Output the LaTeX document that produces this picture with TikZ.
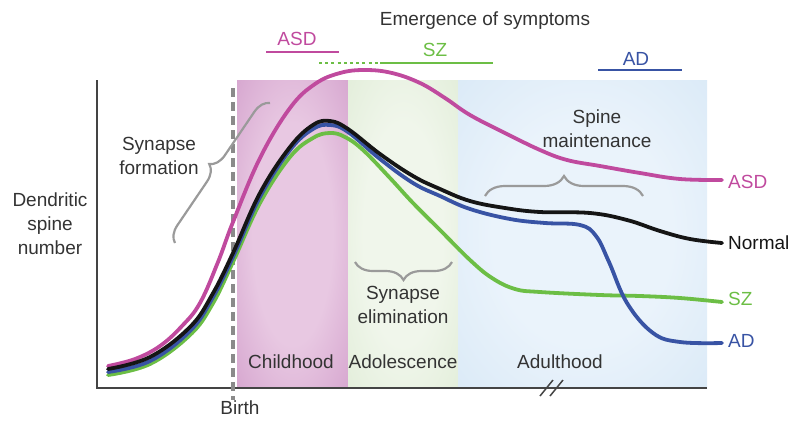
\documentclass[tikz,border=0pt]{standalone}
\usepackage{fontspec}
\setmainfont{Liberation Sans}
\usetikzlibrary{decorations.pathreplacing}
\definecolor{cASD}{HTML}{C04A9E}
\definecolor{cSZ}{HTML}{6CBE45}
\definecolor{cAD}{HTML}{3853A4}
\definecolor{cN}{HTML}{151515}
\definecolor{txt}{HTML}{333333}
\definecolor{brc}{HTML}{9A9A9A}
\definecolor{dsh}{HTML}{8A8A8A}
\definecolor{axc}{HTML}{444444}
\definecolor{chIn}{HTML}{E8C8E2}
\definecolor{chOut}{HTML}{C98DC1}
\definecolor{adIn}{HTML}{F0F6EB}
\definecolor{adOut}{HTML}{D9E8CE}
\definecolor{auIn}{HTML}{EAF3FB}
\definecolor{auOut}{HTML}{CFE3F4}
\pgfdeclareradialshading{childsh}{\pgfpoint{0bp}{0bp}}{color(0bp)=(chIn); color(18bp)=(chIn); color(50bp)=(chOut); color(72bp)=(chOut)}
\pgfdeclareradialshading{adolsh}{\pgfpoint{0bp}{0bp}}{color(0bp)=(adIn); color(18bp)=(adIn); color(50bp)=(adOut); color(72bp)=(adOut)}
\pgfdeclareradialshading{adultsh}{\pgfpoint{0bp}{0bp}}{color(0bp)=(auIn); color(18bp)=(auIn); color(50bp)=(auOut); color(72bp)=(auOut)}
\begin{document}
\begin{tikzpicture}[x=1pt,y=-1pt,
  lbl/.style={text=txt,font=\fontsize{19}{24}\selectfont,inner sep=0pt,align=center},
  curve/.style={line width=3.8pt,line cap=round,line join=round},
  bar/.style={line width=2.8pt},
  bracegray/.style={draw=brc,line width=2.2pt,decorate},
  axis/.style={draw=axc,line width=2pt}]
\useasboundingbox (0,0) rectangle (791,421);
% bands
\shade[shading=childsh] (237,80) rectangle (348,388);
\shade[shading=adolsh] (348,80) rectangle (458,388);
\shade[shading=adultsh] (458,80) rectangle (707,388);
% axes
\coordinate (yTop) at (97,80);
\coordinate (origin) at (97,388);
\coordinate (xEnd) at (707,388);
\draw[axis] (yTop) -- (origin) -- (xEnd);
% birth line
\coordinate (bTop) at (233,88);
\coordinate (bBot) at (233,400);
\draw[dsh,line width=3.2pt,dash pattern=on 9pt off 5pt] (bTop) -- (bBot);
\node[lbl,anchor=north] (birth) at (240,401) {Birth};
% break marks
\coordinate (k1a) at (540,396); \coordinate (k1b) at (553,380);
\coordinate (k2a) at (550,396); \coordinate (k2b) at (563,380);
\draw[axc,line width=1.5pt] (k1a) -- (k1b) (k2a) -- (k2b);
% curves
\draw[curve,cASD] plot[smooth,tension=0.65] coordinates {(108,366) (135,359) (160,346) (182,326) (200,303) (218,262) (233,222) (260,158) (290,108) (315,84) (340,73) (365,70) (392,73) (420,83) (445,98) (470,115) (505,133) (540,150) (567,160) (600,166) (640,173) (680,179) (722,180)};
\draw[curve,cSZ] plot[smooth,tension=0.65] coordinates {(108,375) (150,364) (190,335) (212,305) (233,262) (260,203) (290,157) (313,138) (330,133) (345,137) (363,150) (390,178) (413,203) (440,230) (470,260) (492,278) (515,289) (540,292) (600,295) (640,296) (680,298) (722,302)};
\draw[curve,cAD] plot[smooth,tension=0.65] coordinates {(108,372) (150,361) (190,331) (212,299) (233,257) (260,197) (290,150) (313,129) (330,125) (348,132) (380,159) (413,183) (440,196) (470,209) (510,219) (545,223) (580,225) (596,236) (609,262) (627,303) (653,333) (680,342) (722,343)};
\draw[curve,cN] plot[smooth,tension=0.65] coordinates {(108,369) (150,357) (190,327) (212,295) (233,253) (260,193) (290,147) (313,125) (330,121) (348,129) (380,154) (413,176) (440,189) (470,201) (505,208) (540,212) (590,213) (627,220) (660,231) (690,239) (722,243)};
% braces
\coordinate (fA) at (175,243); \coordinate (fB) at (270,103);
\draw[bracegray,decoration={brace,amplitude=16pt,aspect=0.5}] (fA) -- (fB);
\coordinate (eA) at (452,262); \coordinate (eB) at (355,262);
\draw[bracegray,decoration={brace,amplitude=18pt,aspect=0.5}] (eA) -- (eB);
\coordinate (mA) at (485,196); \coordinate (mB) at (643,196);
\draw[bracegray,decoration={brace,amplitude=20pt,aspect=0.5}] (mA) -- (mB);
% labels
\node[lbl] (synform) at (159,156) {Synapse\\formation};
\node[lbl] (synelim) at (403,305) {Synapse\\elimination};
\node[lbl] (spmaint) at (597,129) {Spine\\maintenance};
\node[lbl] (dsn) at (50,224) {Dendritic\\spine\\number};
\node[lbl] (child) at (291,362) {Childhood};
\node[lbl] (adol) at (403,362) {Adolescence};
\node[lbl] (adult) at (560,362) {Adulthood};
\node[lbl,anchor=west,text=cASD] (rASD) at (728,182) {ASD};
\node[lbl,anchor=west,text=cN] (rN) at (728,243) {Normal};
\node[lbl,anchor=west,text=cSZ] (rSZ) at (728,299) {SZ};
\node[lbl,anchor=west,text=cAD] (rAD) at (728,341) {AD};
% emergence of symptoms
\node[lbl] (emerg) at (485,21) {Emergence of symptoms};
\node[lbl,text=cASD] (tASD) at (297,39) {ASD};
\node[lbl,text=cSZ] (tSZ) at (435,50) {SZ};
\node[lbl,text=cAD] (tAD) at (636,59) {AD};
\coordinate (aA) at (266,52); \coordinate (aB) at (339,52);
\draw[bar,cASD] (aA) -- (aB);
\coordinate (sA) at (319,63); \coordinate (sM) at (380,63); \coordinate (sB) at (493,63);
\draw[bar,cSZ,dash pattern=on 3pt off 3.2pt] (sA) -- (sM);
\draw[bar,cSZ] (sM) -- (sB);
\coordinate (dA) at (598,70); \coordinate (dB) at (682,70);
\draw[bar,cAD] (dA) -- (dB);
\end{tikzpicture}
\end{document}
